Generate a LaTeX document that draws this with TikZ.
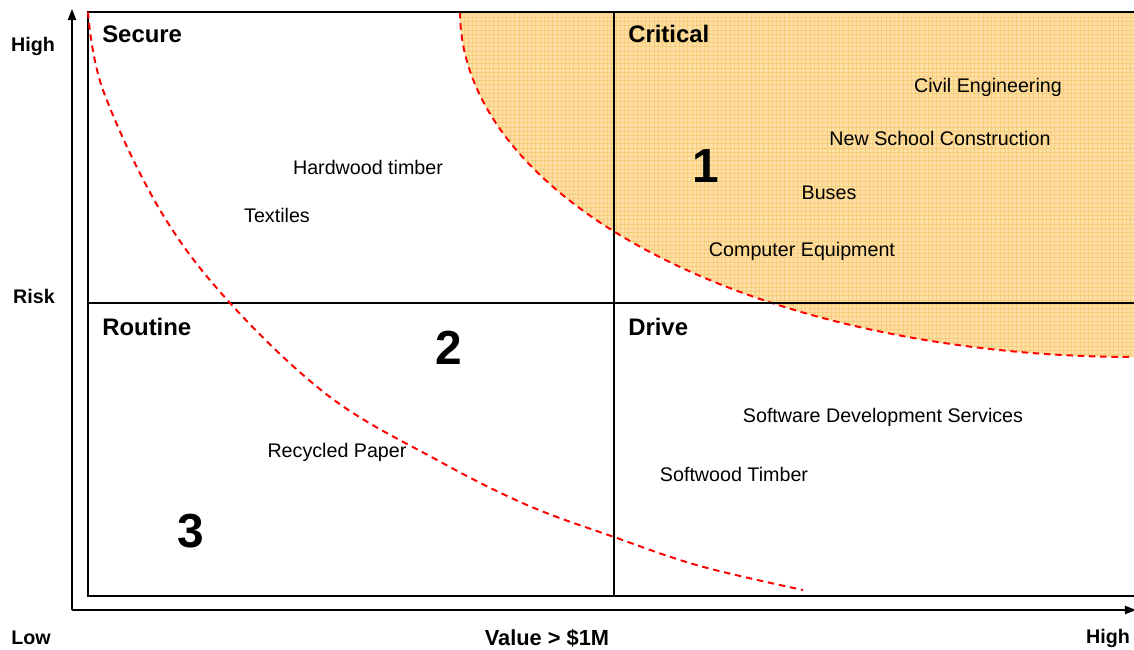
\documentclass[tikz,border=0pt]{standalone}
\usepackage{fontspec}
\setmainfont{Liberation Sans}
\usepackage{tikz}
\usetikzlibrary{arrows.meta, patterns}

\definecolor{shadeorange}{RGB}{252,224,165}
\definecolor{gridorange}{RGB}{248,204,120}

\begin{document}
\begin{tikzpicture}[x=0.025cm, y=-0.025cm,
        frame/.style={line width=1pt, black},
        curve/.style={red, line width=1.4pt, dash pattern=on 4.6pt off 3.4pt},
        quad/.style={font=\bfseries\fontsize{17}{17}\selectfont, anchor=west, inner sep=0pt},
        item/.style={font=\fontsize{14}{14}\selectfont, inner sep=0pt},
        axlabel/.style={font=\bfseries\fontsize{14}{14}\selectfont, inner sep=0pt},
        zone/.style={font=\bfseries\fontsize{34}{34}\selectfont, inner sep=0pt}]
            \useasboundingbox (0,0) rectangle (1134,650);
            % critical zone
            \fill[shadeorange] (460,12) -- plot[domain=180:270, samples=60, smooth] ({1134+674*cos(\x)}, {12-345*sin(\x)}) -- (1134,12) -- cycle;
            \fill[pattern=grid, pattern color=gridorange] (460,12) -- plot[domain=180:270, samples=60, smooth] ({1134+674*cos(\x)}, {12-345*sin(\x)}) -- (1134,12) -- cycle;
            \draw[curve] plot[domain=180:270, samples=60, smooth] ({1134+674*cos(\x)}, {12-345*sin(\x)});
            % matrix
            \coordinate (TL) at (88,12);
            \coordinate (TR) at (1136,12);
            \coordinate (BL) at (88,596);
            \coordinate (BR) at (1136,596);
            \coordinate (TM) at (614,12);
            \coordinate (BM) at (614,596);
            \coordinate (ML) at (88,303);
            \coordinate (MR) at (1136,303);
            \draw[frame] (BR) -- (BL) -- (TL) -- (TR);
            \draw[frame] (TM) -- (BM);
            \draw[frame] (ML) -- (MR);
            % axes
            \coordinate (O) at (72,610);
            \coordinate (Ytop) at (72,9);
            \coordinate (Xend) at (1136,610);
            \draw[frame, -{Triangle[length=8pt, width=6pt]}] (O) -- (Ytop);
            \draw[frame, -{Triangle[length=8pt, width=6pt]}] (O) -- (Xend);
            % routine boundary
            \draw[curve] plot[smooth, tension=0.6] coordinates {(88,12) (103,90) (160,210) (230,303) (330,397) (437,460) (527,505) (614,537) (700,566) (803,590)};
            % labels
            \node[axlabel] (high) at (33,46) {High};
            \node[axlabel] (risk) at (34,296) {Risk};
            \node[axlabel] (low) at (31,638) {Low};
            \node[axlabel, font=\bfseries\fontsize{15.5}{15.5}\selectfont] (value) at (547,638) {Value > \$1M};
            \node[axlabel] (highx) at (1108,638) {High};
            \node[quad] (secure) at (102,34) {Secure};
            \node[quad] (critical) at (628,34) {Critical};
            \node[quad] (routine) at (102,327) {Routine};
            \node[quad] (drive) at (628,327) {Drive};
            \node[item] (hardwood) at (368,167) {Hardwood timber};
            \node[item] (textiles) at (277,215) {Textiles};
            \node[item] (civil) at (988,87) {Civil Engineering};
            \node[item] (school) at (940,138) {New School Construction};
            \node[item] (buses) at (829,193) {Buses};
            \node[item] (computer) at (802,251) {Computer Equipment};
            \node[item] (software) at (883,417) {Software Development Services};
            \node[item] (softwood) at (734,474) {Softwood Timber};
            \node[item] (paper) at (337,452) {Recycled Paper};
            \node[zone] (one) at (706,166) {1};
            \node[zone] (two) at (449,348) {2};
            \node[zone] (three) at (191,531) {3};
        \end{tikzpicture}
\end{document}
